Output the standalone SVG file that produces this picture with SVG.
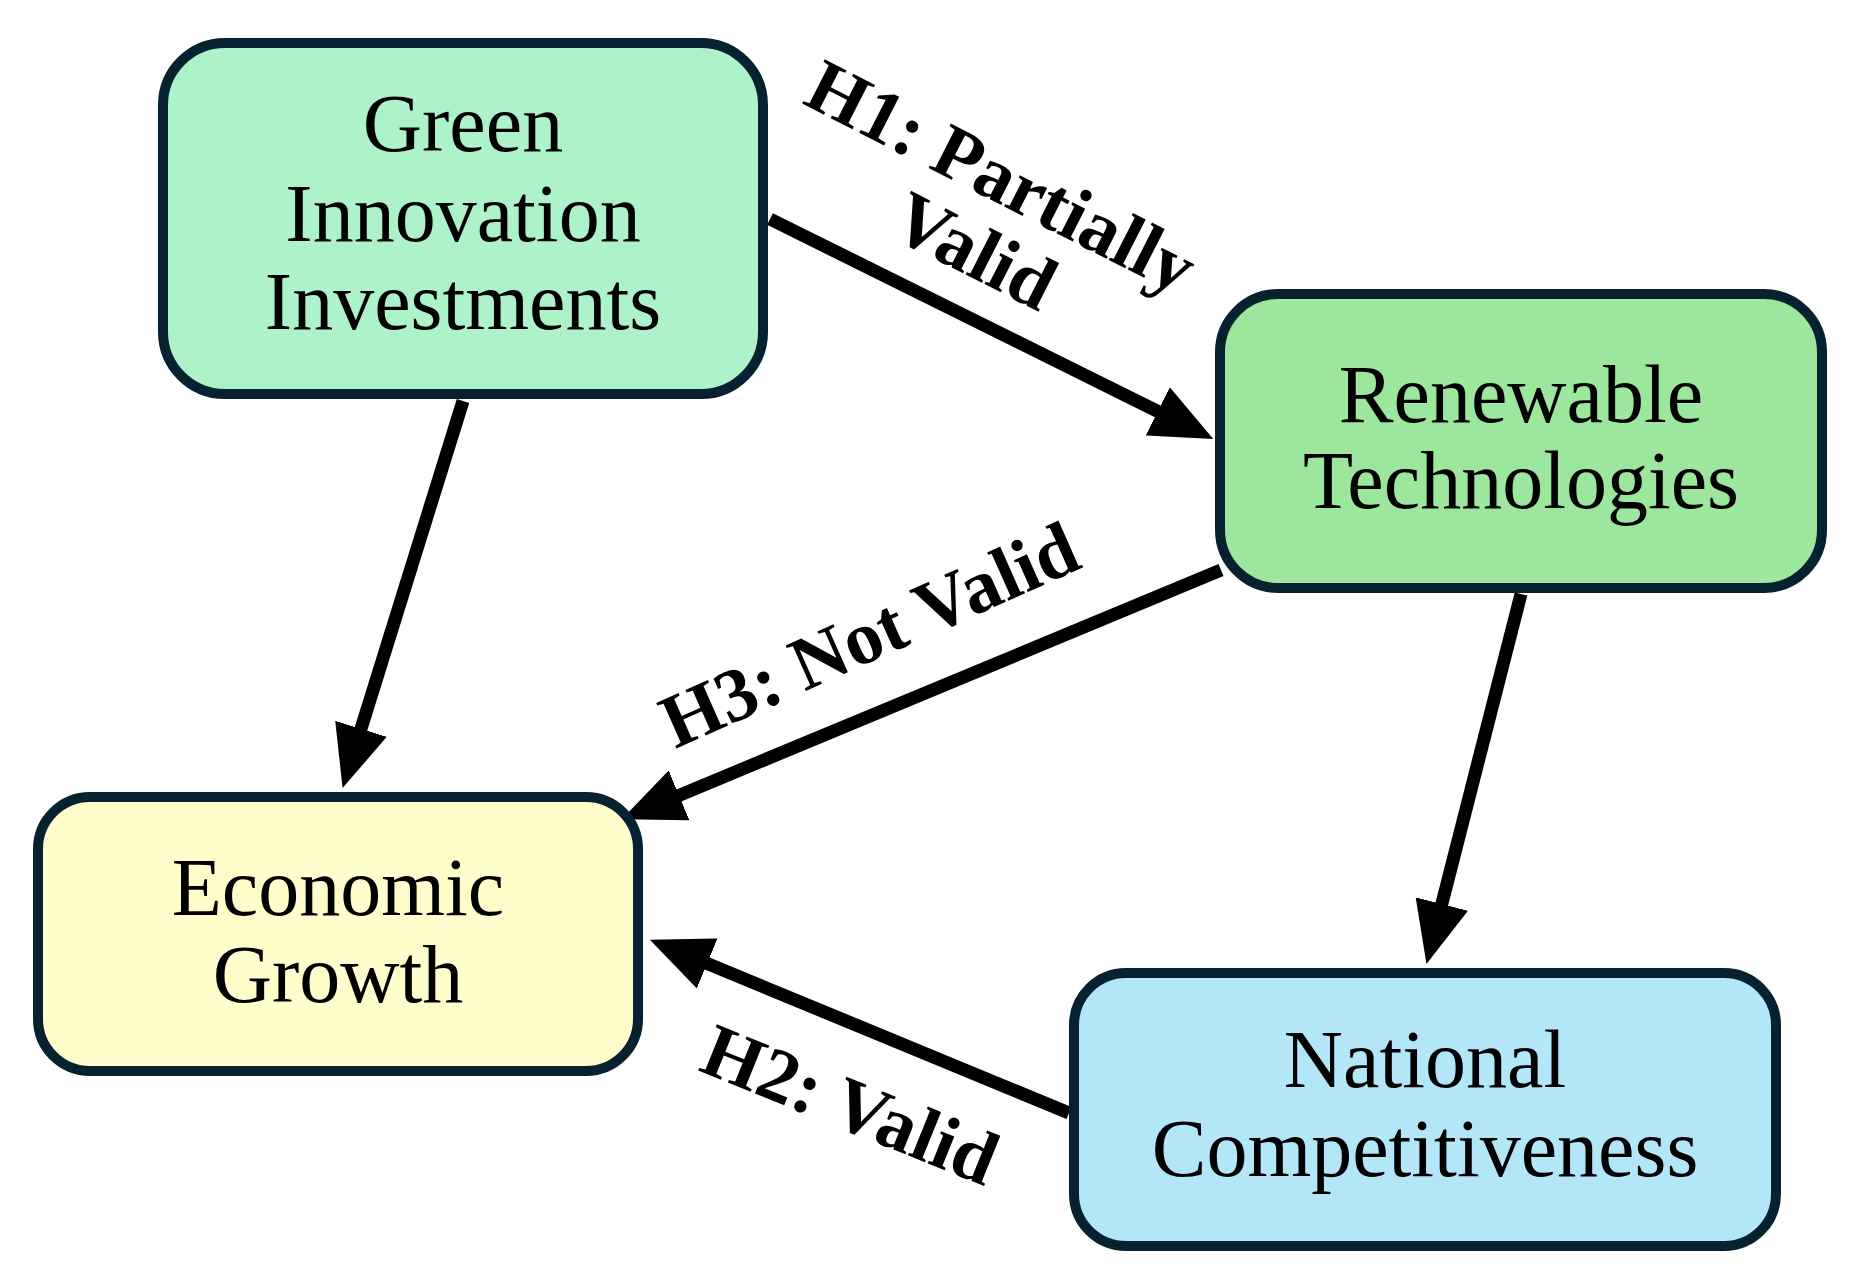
<svg xmlns="http://www.w3.org/2000/svg" width="1863" height="1288" viewBox="0 0 1863 1288">
<style>
.box{stroke:#06212f;stroke-width:10}
.nt{font-family:"Liberation Serif",serif;font-size:82px;fill:#000;text-anchor:middle}
.lb{font-family:"Liberation Serif",serif;font-size:76px;font-weight:bold;fill:#000;text-anchor:middle}
.ar{stroke:#000;stroke-width:13;fill:none;marker-end:url(#ah)}
</style>
<defs>
<marker id="ah" viewBox="0 0 62 54" markerWidth="62" markerHeight="54" refX="32" refY="27" orient="auto" markerUnits="userSpaceOnUse">
<path d="M0,0 L62,27 L0,54 Z" fill="#000"/>
</marker>
</defs>
<rect width="1863" height="1288" fill="#fff"/>
<g id="connectors">
<line class="ar" x1="770" y1="219" x2="1186.4" y2="425.6"/>
<line class="ar" x1="463" y1="401" x2="351.5" y2="759.4"/>
<line class="ar" x1="1221" y1="570" x2="649.5" y2="807.7"/>
<line class="ar" x1="1521" y1="594" x2="1433.9" y2="935"/>
<line class="ar" x1="1069" y1="1113" x2="677.6" y2="951.3"/>
<g transform="translate(1001,178) rotate(27)">
<text class="lb" x="0" y="24">H1: Partially</text>
<text class="lb" x="10" y="102">Valid</text>
</g>
<g transform="translate(870,636) rotate(-24)">
<text class="lb" x="0" y="24">H3: Not Valid</text>
</g>
<g transform="translate(850,1106) rotate(22)">
<text class="lb" x="0" y="24">H2: Valid</text>
</g>
</g>
<g id="green-innovation">
<rect class="box" x="163" y="43" width="600" height="351" rx="62" fill="#adf2c8"/>
<text class="nt" x="463" y="151">Green</text>
<text class="nt" x="463" y="241">Innovation</text>
<text class="nt" x="463" y="329">Investments</text>
</g>
<g id="renewable-technologies">
<rect class="box" x="1220" y="294" width="602" height="294" rx="58" fill="#9de69e"/>
<text class="nt" x="1521" y="422">Renewable</text>
<text class="nt" x="1521" y="508">Technologies</text>
</g>
<g id="economic-growth">
<rect class="box" x="38" y="797" width="600" height="274" rx="52" fill="#fefdcb"/>
<text class="nt" x="338" y="915">Economic</text>
<text class="nt" x="338" y="1002">Growth</text>
</g>
<g id="national-competitiveness">
<rect class="box" x="1074" y="973" width="702" height="273" rx="52" fill="#b3e6f6"/>
<text class="nt" x="1425" y="1087">National</text>
<text class="nt" x="1425" y="1176">Competitiveness</text>
</g>
</svg>
